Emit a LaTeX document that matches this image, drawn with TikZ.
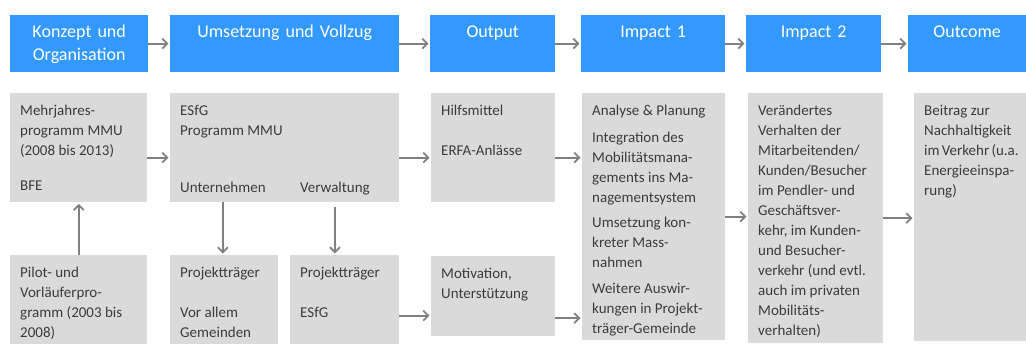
\documentclass[tikz,border=0pt]{standalone}
\usepackage{fontspec}
\setmainfont{Carlito}
\usetikzlibrary{arrows, arrows.meta, positioning}
\definecolor{headblue}{RGB}{51,153,255}
\definecolor{boxgray}{RGB}{218,218,218}
\definecolor{textgray}{RGB}{60,60,60}
\definecolor{arrowgray}{RGB}{128,128,128}
\tikzstyle{head} = [rectangle, anchor=north west, fill=headblue, text=white, align=center, inner xsep=10pt, inner ysep=8pt, text height=14pt, text depth=27pt, font=\fontsize{18}{23}\selectfont]
\tikzstyle{body} = [rectangle, anchor=north west, fill=boxgray, text=textgray, align=flush left, inner xsep=10pt, inner ysep=8pt, text height=14pt, font=\fontsize{15}{20}\selectfont]
\tikzstyle{sub} = [anchor=base west, inner sep=0pt, text=textgray, font=\fontsize{15}{20}\selectfont]
\tikzstyle{arrow} = [line width=1.8pt, draw=arrowgray, ->, >={Straight Barb[length=5pt, width=10pt]}, shorten >=1.5pt]

\begin{document}
\begin{tikzpicture}[x=1pt, y=-1pt]
	\useasboundingbox (0,0) rectangle (1026,354);
	\node (konzept) [head, text width=118pt] at (10,15) {Konzept und\\Organisation};
	\node (umsetzung) [head, text width=209pt] at (170,15) {Umsetzung und Vollzug};
	\node (output) [head, text width=105pt] at (430,15) {Output};
	\node (impacta) [head, text width=124pt] at (581,15) {Impact 1};
	\node (impactb) [head, text width=115pt] at (746,15) {Impact 2};
	\node (outcome) [head, text width=98pt] at (908,15) {Outcome};

	\node (mmu) [body, text width=117pt, text depth=79pt] at (10,93) {Mehrjahres-\\programm MMU\\(2008 bis 2013)\\[15pt]BFE};
	\node (pilot) [body, text width=117pt, text depth=59pt] at (10,255) {Pilot- und\\Vorläuferpro-\\gramm (2003 bis\\2008)};
	\node (esfg) [body, text width=209pt, text depth=79pt] at (170,93) {ESfG\\Programm MMU};
		\node (unt) [sub] at (180,192) {Unternehmen};
		\node (verw) [sub] at (300,192) {Verwaltung};
	\node (ptu) [body, text width=88pt, text depth=59pt] at (170,255) {Projektträger\\[20pt]Vor allem\\Gemeinden};
	\node (ptv) [body, text width=89pt, text depth=59pt] at (290,255) {Projektträger\\[20pt]ESfG};
	\node (hilfe) [body, text width=104pt, text depth=79pt] at (431,93) {Hilfsmittel\\[20pt]ERFA-Anlässe};
	\node (motiv) [body, text width=104pt, text depth=50pt] at (431,256) {Motivation,\\Unterstützung};
	\node (wirka) [body, text width=123pt, text depth=217pt] at (582,93) {Analyse \& Planung\\[7pt]Integration des\\Mobilitätsmana-\\gements ins Ma-\\nagementsystem\\[5pt]Umsetzung kon-\\kreter Mass-\\nahmen\\[6pt]Weitere Auswir-\\kungen in Projekt-\\träger-Gemeinde};
	\node (wirkb) [body, text width=115pt, text depth=220pt] at (748,93) {Verändertes\\Verhalten der\\Mitarbeitenden/\\Kunden/Besucher\\im Pendler- und\\Geschäftsver-\\kehr, im Kunden-\\und Besucher-\\verkehr~(und~evtl.\\auch im privaten\\Mobilitäts-\\verhalten)};
	\node (ziel) [body, text width=92pt, text depth=218pt] at (914,93) {Beitrag zur\\Nachhaltigkeit\\im~Verkehr~(u.a.\\Energieeinspa-\\rung)};

	\draw [arrow] (konzept) -- (umsetzung);
	\draw [arrow] (umsetzung) -- (output);
	\draw [arrow] (output) -- (impacta);
	\draw [arrow] (impacta) -- (impactb);
	\draw [arrow] (impactb) -- (outcome);

	\draw [arrow] (pilot) -- (mmu);
	\draw [arrow] ([yshift=-10pt]mmu.east) -- ([yshift=-10pt]esfg.west);
	\draw [arrow] (esfg.south -| unt) -- (ptu.north -| unt);
	\draw [arrow] ([yshift=-5pt]esfg.south -| verw) -- (ptv.north -| verw);
	\draw [arrow] ([yshift=-10pt]esfg.east) -- ([yshift=-10pt]hilfe.west);
	\draw [arrow] ([yshift=-16pt]ptv.east) -- ([yshift=-16pt]ptv.east -| motiv.west);
	\draw [arrow] ([yshift=-10pt]hilfe.east) -- ([yshift=-10pt]hilfe.east -| wirka.west);
	\draw [arrow] ([yshift=-22pt]motiv.east) -- ([yshift=-22pt]motiv.east -| wirka.west);
	\draw [arrow] (wirka.east) -- (wirka.east -| wirkb.west);
	\draw [arrow] (wirkb.east) -- (wirkb.east -| ziel.west);
\end{tikzpicture}
\end{document}
